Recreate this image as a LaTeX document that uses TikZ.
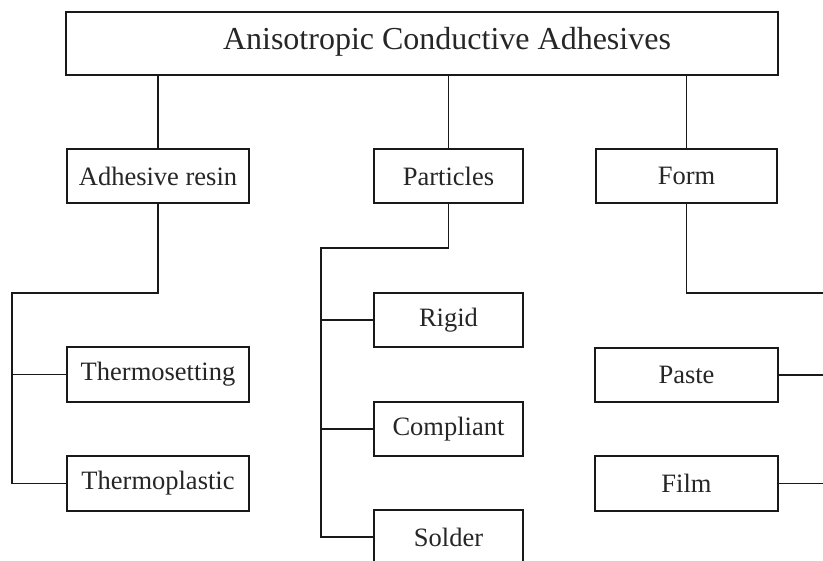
\documentclass[tikz,border=0pt]{standalone}
\usepackage{fontspec}
\setmainfont{Liberation Serif}
\begin{document}
\begin{tikzpicture}[x=1pt,y=-1pt,
  box/.style={draw=black!90, line width=1.4pt, inner sep=0pt, minimum height=54pt, font=\fontsize{26.5}{30}\selectfont, text=black!85},
  conn/.style={draw=black!90, line width=1.4pt}]
\useasboundingbox[fill=white] (0,0) rectangle (823,561);
\node[box, minimum width=712pt, minimum height=63pt] (top) at (422,43.5) {};
\node[font=\fontsize{32}{36}\selectfont, text=black!85, inner sep=0pt] (title) at (447,42) {Anisotropic Conductive Adhesives};
\node[box, minimum width=182pt] (adh) at (158,176) {Adhesive resin};
\node[box, minimum width=149pt] (part) at (448.5,176) {Particles};
\node[box, minimum width=181pt] (form) at (686.5,176) {Form};
\node[box, minimum width=182pt, minimum height=55pt] (tset) at (158,374.5) {Thermosetting};
\node[box, minimum width=182pt, minimum height=55pt] (tplast) at (158,483.5) {Thermoplastic};
\node[box, minimum width=149pt] (rigid) at (448.5,320) {Rigid};
\node[box, minimum width=149pt] (compl) at (448.5,429) {Compliant};
\node[box, minimum width=149pt] (solder) at (448.5,537) {Solder};
\node[box, minimum width=183pt] (paste) at (686.5,375) {Paste};
\node[box, minimum width=183pt, minimum height=55pt] (film) at (686.5,483.5) {Film};
\coordinate (la) at (12,293);
\coordinate (lp) at (321,248);
\coordinate (rf) at (823,293);
\draw[conn] (top.south -| adh.north) -- (adh.north);
\draw[conn] (top.south -| part.north) -- (part.north);
\draw[conn] (top.south -| form.north) -- (form.north);
\draw[conn] (adh.south) |- (la) |- (tplast.west);
\draw[conn] (tset.west) -- (tset.west -| la);
\draw[conn] (part.south) |- (lp) |- (solder.west);
\draw[conn] (rigid.west) -- (rigid.west -| lp);
\draw[conn] (compl.west) -- (compl.west -| lp);
\draw[conn] (form.south) |- (rf);
\draw[conn] (paste.east) -- (paste.east -| rf);
\draw[conn] (film.east) -- (film.east -| rf);
\end{tikzpicture}
\end{document}
